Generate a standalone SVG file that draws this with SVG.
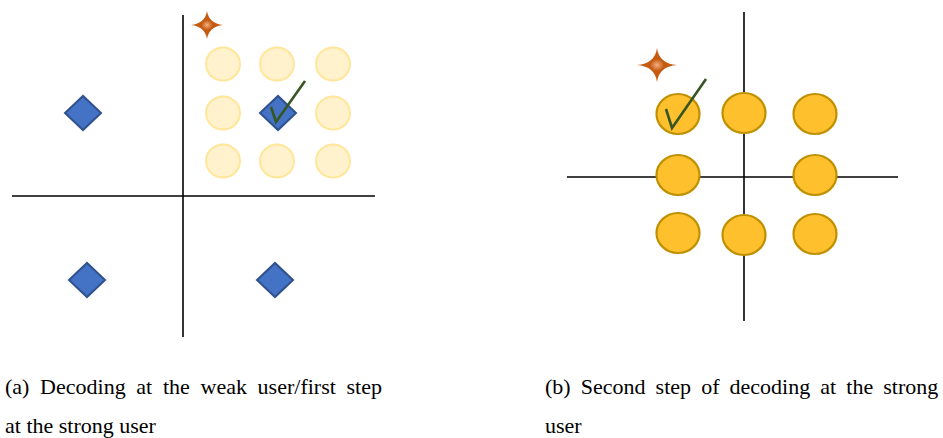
<svg xmlns="http://www.w3.org/2000/svg" width="943" height="438" viewBox="0 0 943 438">
<defs>
<radialGradient id="starGrad" cx="0.5" cy="0.5" r="0.5">
<stop offset="0" stop-color="#F4B183"/>
<stop offset="0.35" stop-color="#C55A11"/>
<stop offset="1" stop-color="#C55A11"/>
</radialGradient>
<style>
.axis{stroke:#000;stroke-width:1.6;fill:none}
.dia{fill:#4472C4;stroke:#2F528F;stroke-width:2}
.pale{fill:#FFF2CC;stroke:#FFE699;stroke-width:2}
.gold{fill:#FFC02E;stroke:#BF9000;stroke-width:2.2}
.star{fill:url(#starGrad);stroke:none}
.check{fill:none;stroke:#375623;stroke-width:2.6}
.cap{font-family:"Liberation Serif","Times New Roman",serif;font-size:22px;fill:#000}
</style>
</defs>
<rect width="943" height="438" fill="#fff"/>
<g id="connectors">
<line class="axis" x1="183" y1="15" x2="183" y2="337"/>
<line class="axis" x1="12" y1="196" x2="375" y2="196"/>
<line class="axis" x1="744" y1="12" x2="744" y2="321"/>
<line class="axis" x1="567" y1="177" x2="898" y2="177"/>
</g>
<g id="panel-a">
<g id="a-pale-points">
<ellipse class="pale" cx="223" cy="64" rx="17" ry="16.5"/>
<ellipse class="pale" cx="277" cy="64" rx="17" ry="16.5"/>
<ellipse class="pale" cx="333" cy="64" rx="17" ry="16.5"/>
<ellipse class="pale" cx="223" cy="113" rx="17" ry="16.5"/>
<ellipse class="pale" cx="333" cy="113" rx="17" ry="16.5"/>
<ellipse class="pale" cx="223" cy="161" rx="17" ry="16.5"/>
<ellipse class="pale" cx="277" cy="161" rx="17" ry="16.5"/>
<ellipse class="pale" cx="333" cy="161" rx="17" ry="16.5"/>
</g>
<g id="a-diamonds">
<path class="dia" d="M65 113 L83 96 L101 113 L83 130 Z"/>
<path class="dia" d="M260 113 L278 96 L296 113 L278 130 Z"/>
<path class="dia" d="M69 280 L87 263 L105 280 L87 297 Z"/>
<path class="dia" d="M257 280 L275 263 L293 280 L275 297 Z"/>
</g>
<g id="a-star">
<path class="star" d="M191 25 Q205 23.5 207 11 Q209 23.5 223 25 Q209 26.5 207 39 Q205 26.5 191 25 Z"/>
</g>
<g id="a-check">
<path class="check" d="M271 107 L276 122 L305 81"/>
</g>
</g>
<g id="panel-b">
<g id="b-points">
<ellipse class="gold" cx="678" cy="114" rx="21.5" ry="20"/>
<ellipse class="gold" cx="744" cy="113" rx="21.5" ry="20"/>
<ellipse class="gold" cx="815" cy="114" rx="21.5" ry="20"/>
<ellipse class="gold" cx="678" cy="175" rx="21.5" ry="20"/>
<ellipse class="gold" cx="815" cy="175" rx="21.5" ry="20"/>
<ellipse class="gold" cx="678" cy="233" rx="21.5" ry="20"/>
<ellipse class="gold" cx="744" cy="235" rx="21.5" ry="20"/>
<ellipse class="gold" cx="815" cy="234" rx="21.5" ry="20"/>
</g>
<g id="b-star">
<path class="star" d="M637 65 Q655 63.5 657 48 Q659 63.5 677 65 Q659 66.5 657 82 Q655 66.5 637 65 Z"/>
</g>
<g id="b-check">
<path class="check" d="M666 109 L672 128 L706 79"/>
</g>
</g>
<g id="captions">
<text class="cap" x="5" y="394" word-spacing="5.2">(a) Decoding at the weak user/first step</text>
<text class="cap" x="5" y="433">at the strong user</text>
<text class="cap" x="545" y="394" word-spacing="4.6">(b) Second step of decoding at the strong</text>
<text class="cap" x="545" y="433">user</text>
</g>
</svg>
